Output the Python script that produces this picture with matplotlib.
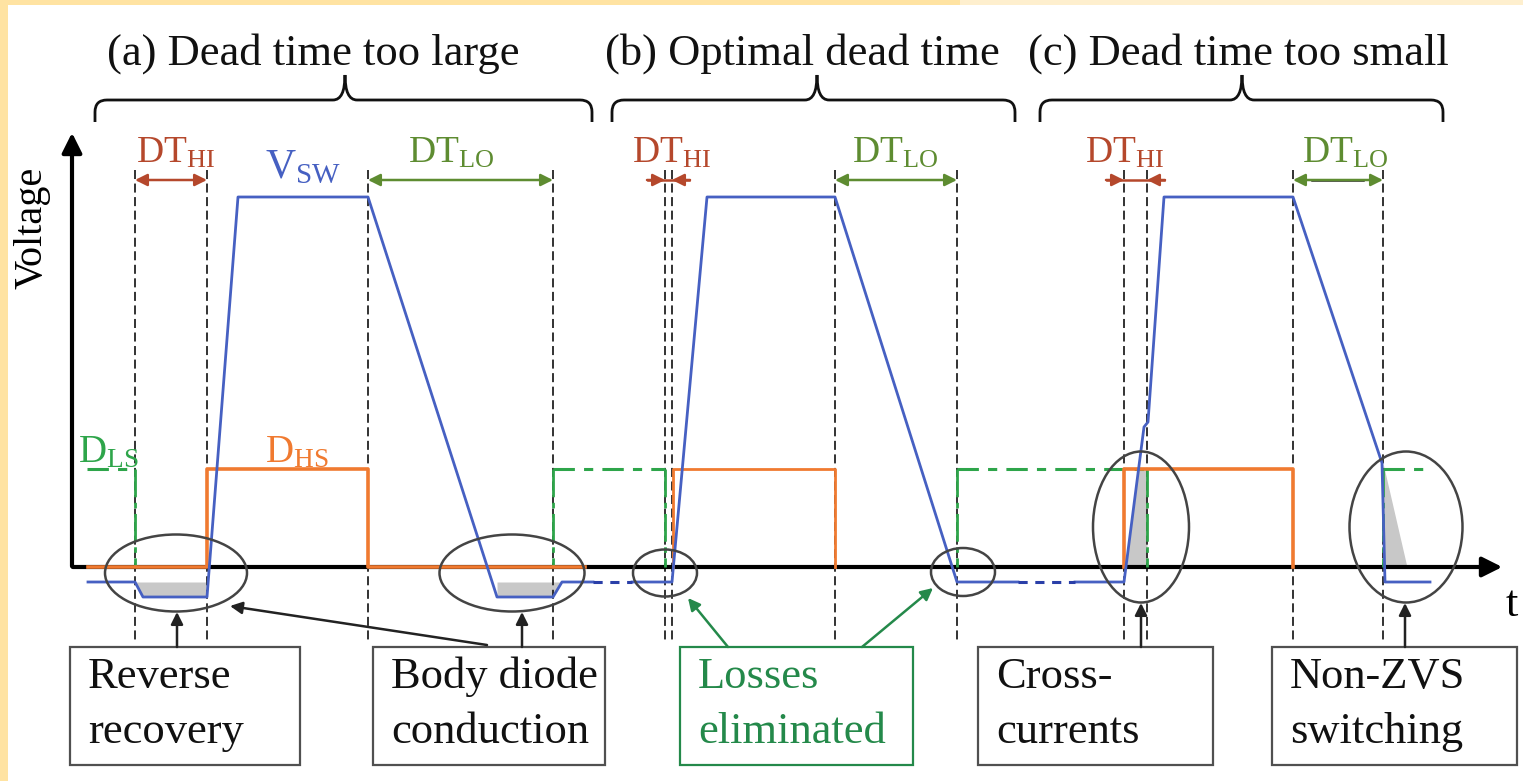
import matplotlib.pyplot as plt
from matplotlib.patches import Ellipse, Rectangle, PathPatch
from matplotlib.path import Path

plt.rcParams['font.family'] = ['Liberation Serif', 'DejaVu Serif']
plt.rcParams['mathtext.default'] = 'regular'

# voltage levels (image rows, y grows downward)
y_zero = 567
y_high = 197
y_gate = 469
y_low = 582
y_diode = 597

# switch node voltage V_SW, solid pieces
vsw_a_t = [88, 135, 143, 207, 238, 368, 497, 553, 562, 593]
vsw_a_v = [y_low, y_low, y_diode, y_diode, y_high, y_high, y_diode, y_diode, y_low, y_low]
vsw_b_t = [632, 672, 707, 835, 957, 1018]
vsw_b_v = [y_low, y_low, y_high, y_high, y_low, y_low]
vsw_c_t = [1075, 1124, 1144, 1148, 1164, 1293, 1382, 1385, 1430]
vsw_c_v = [y_low, y_low, 427, 422, y_high, y_high, 463, y_low, y_low]
# dashed links between the panels
vsw_gap_t = [(593, 632), (1018, 1075)]

# high side gate D_HS
dhs_a_t = [88, 207, 207, 368, 368, 585]
dhs_a_v = [y_zero, y_zero, y_gate, y_gate, y_zero, y_zero]
dhs_b_t = [673, 673, 835, 835]
dhs_c_t = [1124, 1124, 1293, 1293]
dhs_bc_v = [y_zero, y_gate, y_gate, y_zero]

# low side gate D_LS: high segments and switching edges
dls_high = [(87, 135), (553, 665), (957, 1147), (1383, 1427)]
dls_edges = [135, 553, 665, 957, 1147, 1383]

# dead-time markers
dt_lines = [135, 207, 368, 553, 665, 672, 835, 957, 1124, 1147, 1293, 1383]
dt_hi = [(135, 207), (665, 672), (1124, 1147)]
dt_lo = [(368, 553), (835, 957), (1293, 1383)]

# highlighted loss regions (cx, cy, w, h)
ellipses = [(176, 573, 142, 77), (512, 573, 145, 77), (665, 573, 64, 47),
            (963, 572, 64, 48), (1141, 527, 96, 151), (1406, 527, 113, 151)]

titles = ['(a) Dead time too large', '(b) Optimal dead time', '(c) Dead time too small']
title_x = [107, 605, 1028]
brace_left = [95, 612, 1040]
brace_right = [592, 1015, 1443]
brace_mid = [345, 817, 1242]

box_lines = [('Reverse', 'recovery'), ('Body diode', 'conduction'), ('Losses', 'eliminated'),
             ('Cross-', 'currents'), ('Non-ZVS', 'switching')]
box_left = [70, 373, 680, 978, 1272]
box_right = [300, 605, 913, 1213, 1517]

blue = '#4660C2'
orange = '#F07A30'
green = '#2EA54A'
red_dt = '#B5482C'
green_dt = '#5E8C31'
green_box = '#24894A'
edge = '#444444'
fill_gray = '#C8C8C8'

fig = plt.figure(figsize=(15.23, 7.81), dpi=100)
ax = fig.add_axes([0, 0, 1, 1])
ax.set_xlim(0, 1523)
ax.set_ylim(781, 0)
ax.axis('off')

# yellow frame of the screenshot
ax.add_patch(Rectangle((0, 0), 8, 781, color='#FFE3A2', lw=0))
ax.add_patch(Rectangle((0, 0), 960, 5, color='#FFE3A2', lw=0))
ax.add_patch(Rectangle((960, 0), 563, 5, color='#FEEFCE', lw=0))

# dead time dashed verticals
for x in dt_lines:
    ax.plot([x, x], [170, 642], color='#222222', lw=1.3, ls=(0, (5, 2.5)), zorder=2)

# grey loss areas
ax.fill_between([135, 143, 207], [y_low] * 3, [y_low, y_diode, y_diode], color=fill_gray, lw=0, zorder=1)
ax.fill_between([497, 553, 562], [y_low] * 3, [y_diode, y_diode, y_low], color=fill_gray, lw=0, zorder=1)
ax.fill_betweenx([y_gate, y_zero], [1138.6, 1126], [1147, 1147], color=fill_gray, lw=0, zorder=1)
ax.fill_betweenx([463, y_zero], [1383, 1383], [1383, 1407], color=fill_gray, lw=0, zorder=1)

# axes
ax.annotate('', xy=(72, 130), xytext=(72, 569),
            arrowprops=dict(arrowstyle='-|>', color='black', lw=3, mutation_scale=30), zorder=3)
ax.annotate('', xy=(1505, y_zero), xytext=(70, y_zero),
            arrowprops=dict(arrowstyle='-|>', color='black', lw=3, mutation_scale=30), zorder=3)
ax.text(32, 228, 'Voltage', fontsize=29, rotation=90, ha='center', va='center')
ax.text(1512, 605, 't', fontsize=32, ha='center', va='center')

# D_LS
for t0, t1 in dls_high:
    ax.plot([t0, t1], [y_gate, y_gate], color=green, lw=2.2, ls=(0, (7, 3, 3, 3)), zorder=4)
for x in dls_edges:
    ax.plot([x, x], [y_gate, y_zero], color=green, lw=2.0, ls=(0, (10, 2, 2, 2)), zorder=4)

# D_HS
ax.plot(dhs_a_t, dhs_a_v, color=orange, lw=2.6, zorder=4)
ax.plot(dhs_b_t, dhs_bc_v, color=orange, lw=2.0, zorder=4)
ax.plot(dhs_c_t, dhs_bc_v, color=orange, lw=2.6, zorder=4)

# V_SW
for t, v in [(vsw_a_t, vsw_a_v), (vsw_b_t, vsw_b_v), (vsw_c_t, vsw_c_v)]:
    ax.plot(t, v, color=blue, lw=2.0, zorder=5)
for t0, t1 in vsw_gap_t:
    ax.plot([t0, t1], [y_low, y_low], color='#2A3FA8', lw=2.2, ls=(0, (3, 2.5)), zorder=5)

# ellipses
for cx, cy, w, h in ellipses:
    ax.add_patch(Ellipse((cx, cy), w, h, fill=False, ec=edge, lw=1.8, zorder=6))

# dead time arrows
for (t0, t1), (u0, u1) in zip(dt_hi, dt_lo):
    if t1 - t0 > 50:
        ax.annotate('', xy=(t1, 180), xytext=(t0, 180),
                    arrowprops=dict(arrowstyle='<|-|>', color=red_dt, lw=1.8, mutation_scale=18,
                                    shrinkA=0, shrinkB=0))
    else:
        ax.plot([t0 - 17, t1 + 17], [180, 180], color=red_dt, lw=1.8)
        ax.annotate('', xy=(t0, 180), xytext=(t0 - 18, 180),
                    arrowprops=dict(arrowstyle='-|>', color=red_dt, lw=1.8, mutation_scale=18,
                                    shrinkA=0, shrinkB=0))
        ax.annotate('', xy=(t1, 180), xytext=(t1 + 18, 180),
                    arrowprops=dict(arrowstyle='-|>', color=red_dt, lw=1.8, mutation_scale=18,
                                    shrinkA=0, shrinkB=0))
    ax.annotate('', xy=(u1, 180), xytext=(u0, 180),
                arrowprops=dict(arrowstyle='<|-|>', color=green_dt, lw=1.8, mutation_scale=18,
                                shrinkA=0, shrinkB=0))
ax.plot([1312, 1363], [180, 180], color='#222222', lw=1.8)

# waveform labels
for x in [136, 632, 1085]:
    ax.text(x, 163, r'DT$_{HI}$', fontsize=27, color=red_dt, va='baseline')
for x in [408, 852, 1302]:
    ax.text(x, 163, r'DT$_{LO}$', fontsize=27, color=green_dt, va='baseline')
ax.text(265, 178, r'V$_{SW}$', fontsize=30, color=blue, va='baseline')
ax.text(78, 462, r'D$_{LS}$', fontsize=28, color=green, va='baseline')
ax.text(265, 462, r'D$_{HS}$', fontsize=28, color=orange, va='baseline')

# titles with braces
for title, tx, b0, b1, bm in zip(titles, title_x, brace_left, brace_right, brace_mid):
    ax.text(tx, 65, title, fontsize=32, va='baseline', color='#111111')
    r = 12
    verts = [(b0, 122), (b0, 100 + r), (b0, 100), (b0 + r, 100), (bm - r, 100), (bm, 100), (bm, 75),
             (bm, 100), (bm + r, 100), (b1 - r, 100), (b1, 100), (b1, 100 + r), (b1, 122)]
    codes = [Path.MOVETO, Path.LINETO, Path.CURVE3, Path.CURVE3, Path.LINETO, Path.CURVE3, Path.CURVE3,
             Path.CURVE3, Path.CURVE3, Path.LINETO, Path.CURVE3, Path.CURVE3, Path.LINETO]
    ax.add_patch(PathPatch(Path(verts, codes), fill=False, ec='#111111', lw=2.0))

# annotation boxes
for (l1, l2), x0, x1 in zip(box_lines, box_left, box_right):
    col = green_box if l1 == 'Losses' else '#111111'
    ec = green_box if l1 == 'Losses' else '#505050'
    ax.add_patch(Rectangle((x0, 647), x1 - x0, 118, fill=False, ec=ec, lw=1.6))
    ax.text(x0 + 18, 688, l1, fontsize=32, color=col, va='baseline')
    ax.text(x0 + 18, 743, l2, fontsize=32, color=col, va='baseline')

# pointer arrows
pointers = [((177, 647), (177, 612), '#222222'), ((522, 647), (522, 612), '#222222'),
            ((487, 645), (230, 606), '#222222'), ((728, 647), (688, 598), green_box),
            ((862, 647), (933, 588), green_box), ((1141, 647), (1141, 603), '#222222'),
            ((1405, 647), (1405, 603), '#222222')]
for start, end, col in pointers:
    ax.annotate('', xy=end, xytext=start,
                arrowprops=dict(arrowstyle='-|>', color=col, lw=1.8, mutation_scale=18,
                                shrinkA=0, shrinkB=0))

fig.savefig('out.png', dpi=100)
